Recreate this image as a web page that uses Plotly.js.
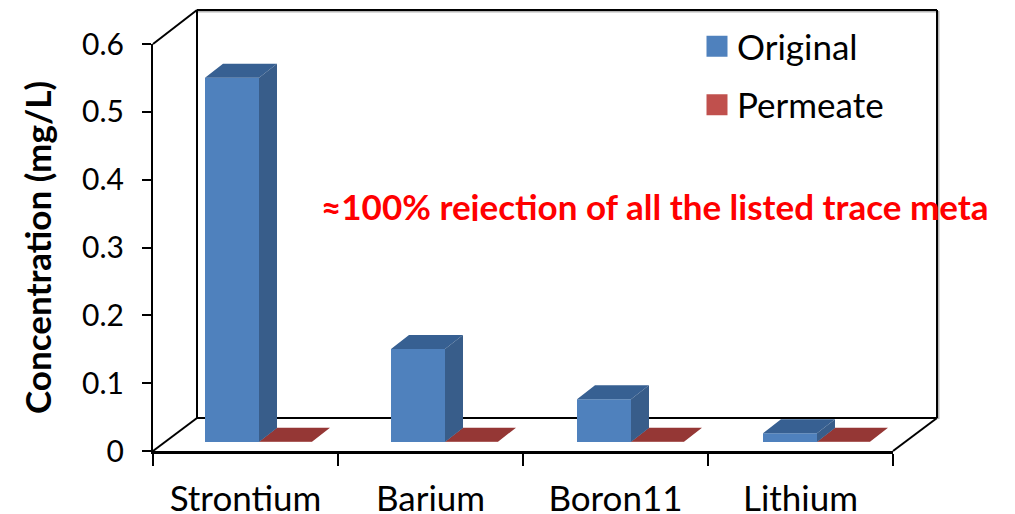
<!DOCTYPE html>
<html><head><meta charset="utf-8">
<script src="https://cdn.plot.ly/plotly-3.0.1.min.js"></script>
<style>html,body{margin:0;padding:0;background:#fff}#c{width:1015px;height:514px}</style>
</head><body><div id="c"></div>
<script>
const categories = ["Strontium", "Barium", "Boron11", "Lithium"];
const original = [0.537, 0.137, 0.063, 0.013];
const permeate = [0.0005, 0.0005, 0.0005, 0.0005];
const yTicks = [0, 0.1, 0.2, 0.3, 0.4, 0.5, 0.6];
const noteText = "≈100% rejection of all the listed trace meta";

const L = 153, R = 893, T = 44, B = 451, W = 1015, H = 514;
const FONT = "Lato, 'Open Sans', sans-serif";
const px = x => (x - L) / (R - L);
const py = y => (B - y) / (B - T);
const catUnit = (R - L) / categories.length;
const valUnit = 0.6 / (B - T);

const barW = 54 / catUnit, permW = 53 / catUnit, depthX = 18 / catUnit, depthY = 14 * valUnit, floorBase = 9 * valUnit;
const drift = 1 / catUnit;
const offsO = -40.5 / catUnit, offsP = offsO + barW;

function topFace(vals, offs, w) {
  const x = [], y = [];
  vals.forEach((v, i) => {
    const l = i + offs + i * drift, r = l + w, t = floorBase + v;
    x.push(l, r, r + depthX, l + depthX, l, null);
    y.push(t, t, t + depthY, t + depthY, t, null);
  });
  return {x, y};
}
function sideFace(vals, offs, w) {
  const x = [], y = [];
  vals.forEach((v, i) => {
    const r = i + offs + i * drift + w, t = floorBase + v, b = floorBase;
    x.push(r, r + depthX, r + depthX, r, r, null);
    y.push(b, b + depthY, t + depthY, t, b, null);
  });
  return {x, y};
}
function face(p, color) {
  return {type: "scatter", mode: "lines", x: p.x, y: p.y, xaxis: "x2", yaxis: "y", fill: "toself",
    fillcolor: color, line: {width: 0, color: color}, showlegend: false, hoverinfo: "skip"};
}
function bar(name, vals, offs, w, color) {
  return {type: "bar", name, legendgroup: name, x: categories, y: vals, base: vals.map(() => floorBase),
    width: w, offset: vals.map((v, i) => offs + i * drift), marker: {color, line: {width: 0}}, hoverinfo: "skip"};
}

const traces = [
  bar("Original", original, offsO, barW, "#4F81BD"),
  bar("Permeate", permeate, offsP, permW, "#C0504D"),
  face(topFace(permeate, offsP, permW), "#953735"),
  face(sideFace(permeate, offsP, permW), "#7A2C2A"),
  face(topFace(original, offsO, barW), "#376092"),
  face(sideFace(original, offsO, barW), "#385D8A")
];

function seg(x0, y0, x1, y1, color, width) {
  return {type: "line", xref: "paper", yref: "paper", x0: px(x0), y0: py(y0), x1: px(x1), y1: py(y1),
    layer: "below", line: {color, width}};
}
const dx = 44, dy = 33;
const shapes = [
  seg(L + dx + 1, 11.5, R + dx + 1, 11.5, "#b5b5b5", 2),
  seg(R + dx + 1.5, T - dy, R + dx + 1.5, B - dy + 1, "#b5b5b5", 2),
  seg(L, 453, R, 453, "#c4c4c4", 2),
  seg(L + dx, T - dy - 1, R + dx, T - dy - 1, "#000", 2),
  seg(L + dx, T - dy - 1, L + dx, B - dy, "#000", 2),
  seg(R + dx, T - dy - 1, R + dx, B - dy, "#000", 2),
  seg(L + dx, B - dy, R + dx, B - dy, "#000", 2),
  seg(L, T, L + dx, T - dy - 1, "#000", 2),
  seg(L, B, L + dx, B - dy, "#000", 2),
  seg(R, B, R + dx, B - dy, "#000", 2)
];

const layout = {
  width: W, height: H, margin: {l: L, r: W - R, t: T, b: H - B, pad: 0},
  paper_bgcolor: "#fff", plot_bgcolor: "rgba(0,0,0,0)", barmode: "overlay", showlegend: true,
  font: {family: FONT, color: "#000", size: 30},
  xaxis: {type: "category", range: [-0.5, 3.5], tickson: "boundaries", ticks: "outside", ticklen: 12, tickwidth: 2,
    tickcolor: "#000", showline: true, linecolor: "#000", linewidth: 3, showgrid: false, zeroline: false,
    ticklabelstandoff: 15, tickfont: {family: FONT, size: 35, color: "#000"}, fixedrange: true},
  xaxis2: {overlaying: "x", anchor: "y", range: [-0.5, 3.5], visible: false, fixedrange: true},
  yaxis: {range: [0, 0.6], tickvals: yTicks, ticktext: yTicks.map(String), ticks: "outside", ticklen: 9, tickwidth: 2,
    tickcolor: "#000", showline: true, linecolor: "#000", linewidth: 2, showgrid: false, zeroline: false,
    ticklabelstandoff: 12, tickfont: {family: FONT, size: 30, color: "#000"}, fixedrange: true,
    title: {text: "<b>Concentration (mg/L)</b>", standoff: 20, font: {family: FONT, size: 35, color: "#000"}}},
  legend: {x: px(697), y: py(17), xanchor: "left", yanchor: "top", bgcolor: "rgba(0,0,0,0)", traceorder: "grouped",
    tracegroupgap: 10, font: {family: FONT, size: 35, color: "#000"}, itemclick: false, itemdoubleclick: false},
  shapes,
  annotations: [{xref: "paper", yref: "paper", x: px(320), y: py(184), xanchor: "left", yanchor: "top",
    width: 680, height: 36, align: "left", valign: "top", borderpad: 0,
    text: "<b>" + noteText + "</b>", showarrow: false, font: {family: FONT, size: 35, color: "#FF0000"}}]
};

Plotly.newPlot("c", traces, layout, {staticPlot: true, displayModeBar: false}).then(gd => {
  gd.querySelectorAll(".legendpoints path").forEach(p => p.setAttribute("d", "M10.5,10.5H-10.5V-10.5H10.5Z"));
});
</script></body></html>
